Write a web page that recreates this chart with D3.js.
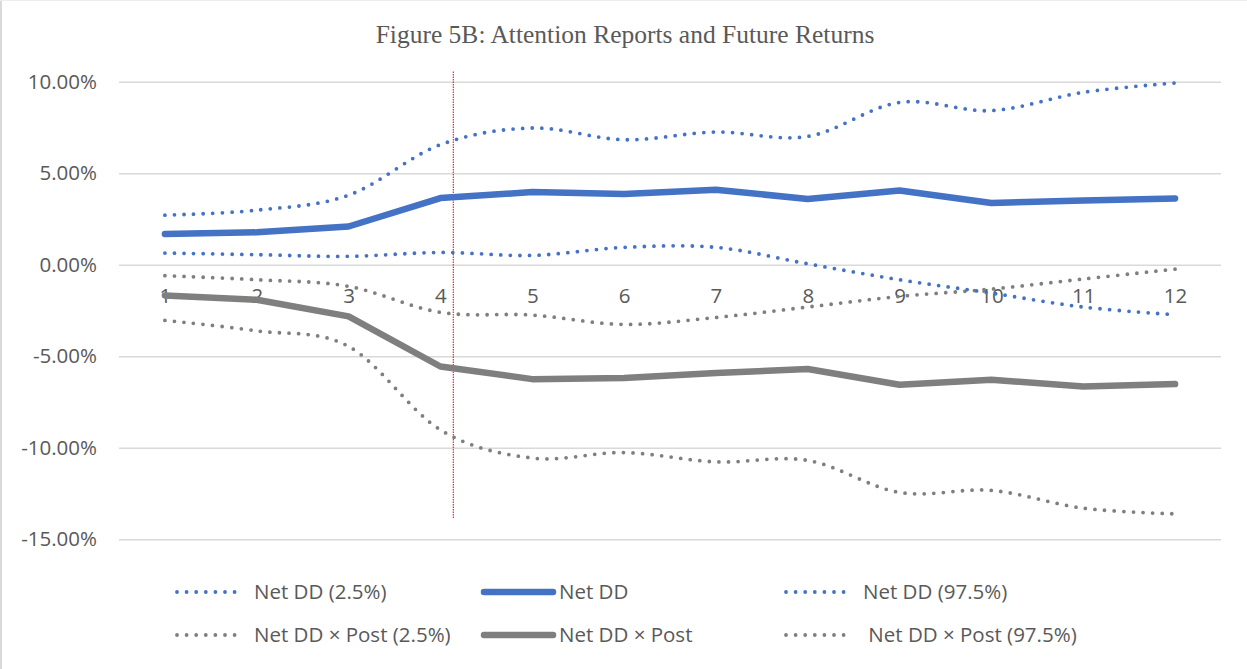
<!DOCTYPE html>
<html>
<head>
<meta charset="utf-8">
<script src="https://cdn.jsdelivr.net/npm/d3@7"></script>
<style>
  html, body { margin: 0; padding: 0; background: #fff; }
  svg { display: block; }
</style>
</head>
<body>
<svg id="chart" width="1247" height="669"></svg>
<script>
// ---------- data ----------
const categories = [1, 2, 3, 4, 5, 6, 7, 8, 9, 10, 11, 12];
const netDD      = [1.68, 1.77, 2.09, 3.64, 3.97, 3.86, 4.10, 3.59, 4.06, 3.37, 3.51, 3.62];
const netDDHi    = [2.71, 2.98, 3.80, 6.56, 7.47, 6.83, 7.25, 7.01, 8.87, 8.42, 9.42, 9.93];
const netDDLo    = [0.64, 0.55, 0.46, 0.67, 0.51, 0.95, 0.95, 0.05, -0.82, -1.55, -2.31, -2.73];
const postDD     = [-1.68, -1.91, -2.82, -5.56, -6.25, -6.19, -5.92, -5.70, -6.56, -6.28, -6.65, -6.52];
const postDDHi   = [-0.60, -0.82, -1.18, -2.60, -2.75, -3.26, -2.88, -2.31, -1.73, -1.33, -0.78, -0.24];
const postDDLo   = [-3.04, -3.61, -4.46, -9.02, -10.56, -10.26, -10.77, -10.69, -12.44, -12.33, -13.30, -13.61];
const yTicks     = [-15, -10, -5, 0, 5, 10];
const markerX    = 4.14;   // red dotted divider
const titleText  = "Figure 5B: Attention Reports and Future Returns";

const BLUE = "#4472C4", GRAY = "#7F7F7F";

const series = [
  { name: "Net DD (2.5%)",            values: netDDLo,  color: BLUE, dotted: true },
  { name: "Net DD",                   values: netDD,    color: BLUE, dotted: false },
  { name: "Net DD (97.5%)",           values: netDDHi,  color: BLUE, dotted: true },
  { name: "Net DD \u00d7 Post (2.5%)",  values: postDDLo, color: GRAY, dotted: true },
  { name: "Net DD \u00d7 Post",         values: postDD,   color: GRAY, dotted: false },
  { name: " Net DD \u00d7 Post (97.5%)", values: postDDHi, color: GRAY, dotted: true }
];

// ---------- layout ----------
const svg = d3.select("#chart");
const plot = { left: 119, right: 1221, top: 81.7, bottom: 539.3 };
const FONT = "'Open Sans', Lato, 'Liberation Sans', sans-serif";
const TXT = "#595959";
const FS = 20.5;

// border (left + top)
svg.append("line").attr("x1", 1).attr("x2", 1).attr("y1", 0).attr("y2", 669)
  .attr("stroke", "#D9D9D9").attr("stroke-width", 2);
svg.append("line").attr("x1", 0).attr("x2", 1247).attr("y1", 0.5).attr("y2", 0.5)
  .attr("stroke", "#EDEDED").attr("stroke-width", 1);

const x = d3.scaleLinear().domain([0.5, 12.5]).range([plot.left, plot.right]);
const y = d3.scaleLinear().domain([-15, 10]).range([plot.bottom, plot.top]);

// title
svg.append("text").attr("x", 625).attr("y", 43).attr("text-anchor", "middle")
  .attr("font-family", "'Liberation Serif', 'DejaVu Serif', serif").attr("font-size", 25.5)
  .attr("fill", TXT).text(titleText);

// y axis + gridlines
const fmt = v => d3.format(".2f")(v).replace("\u2212", "-") + "%";
const yAxis = svg.append("g").attr("transform", `translate(${plot.left},0)`)
  .call(d3.axisLeft(y).tickValues(yTicks).tickFormat(fmt)
        .tickSize(-(plot.right - plot.left)).tickPadding(22));
yAxis.select(".domain").remove();
yAxis.selectAll(".tick line").attr("stroke", "#D9D9D9").attr("stroke-width", 1.5);
yAxis.selectAll(".tick text").attr("font-family", FONT).attr("font-size", FS).attr("fill", TXT);

// x axis labels at zero line
const xAxis = svg.append("g").attr("transform", `translate(0,${y(0)})`)
  .call(d3.axisBottom(x).tickValues(categories).tickFormat(d3.format("d")).tickSize(0).tickPadding(24));
xAxis.select(".domain").remove();
xAxis.selectAll(".tick text").attr("font-family", FONT).attr("font-size", FS).attr("fill", TXT);

// red divider
svg.append("line").attr("x1", x(markerX)).attr("x2", x(markerX))
  .attr("y1", 71.5).attr("y2", 519)
  .attr("stroke", "#E00000").attr("stroke-width", 1).attr("stroke-dasharray", "1.5,1");

// series lines
const smooth = d3.line().x((d, i) => x(categories[i])).y(d => y(d)).curve(d3.curveCatmullRom.alpha(0));
const straight = d3.line().x((d, i) => x(categories[i])).y(d => y(d));

const drawOrder = [3, 5, 0, 2, 4, 1];
drawOrder.forEach(k => {
  const s = series[k];
  const p = svg.append("path").attr("d", (s.dotted ? smooth : straight)(s.values))
    .attr("fill", "none").attr("stroke", s.color).attr("stroke-linecap", "round")
    .attr("stroke-linejoin", "round");
  if (s.dotted) p.attr("stroke-width", 3.8).attr("stroke-dasharray", "0,9.6");
  else p.attr("stroke-width", 6.5);
});

// legend
const legendCols = [177, 481, 786];
const legendTextX = [254, 559, 863];
const legendRows = [592, 635];
series.forEach((s, i) => {
  const col = i % 3, row = Math.floor(i / 3);
  const ly = legendRows[row];
  const g = svg.append("g");
  if (s.dotted) {
    g.append("line").attr("x1", legendCols[col]).attr("x2", legendCols[col] + 60)
      .attr("y1", ly).attr("y2", ly).attr("stroke", s.color).attr("stroke-width", 3.8)
      .attr("stroke-linecap", "round").attr("stroke-dasharray", "0,9.6");
  } else {
    g.append("line").attr("x1", legendCols[col] + 3).attr("x2", legendCols[col] + 72)
      .attr("y1", ly).attr("y2", ly).attr("stroke", s.color).attr("stroke-width", 6.5)
      .attr("stroke-linecap", "round");
  }
  g.append("text").attr("x", legendTextX[col]).attr("y", ly).attr("dy", "0.35em")
    .attr("font-family", FONT).attr("font-size", FS).attr("fill", TXT)
    .attr("xml:space", "preserve").style("white-space", "pre").text(s.name);
});
</script>
</body>
</html>
